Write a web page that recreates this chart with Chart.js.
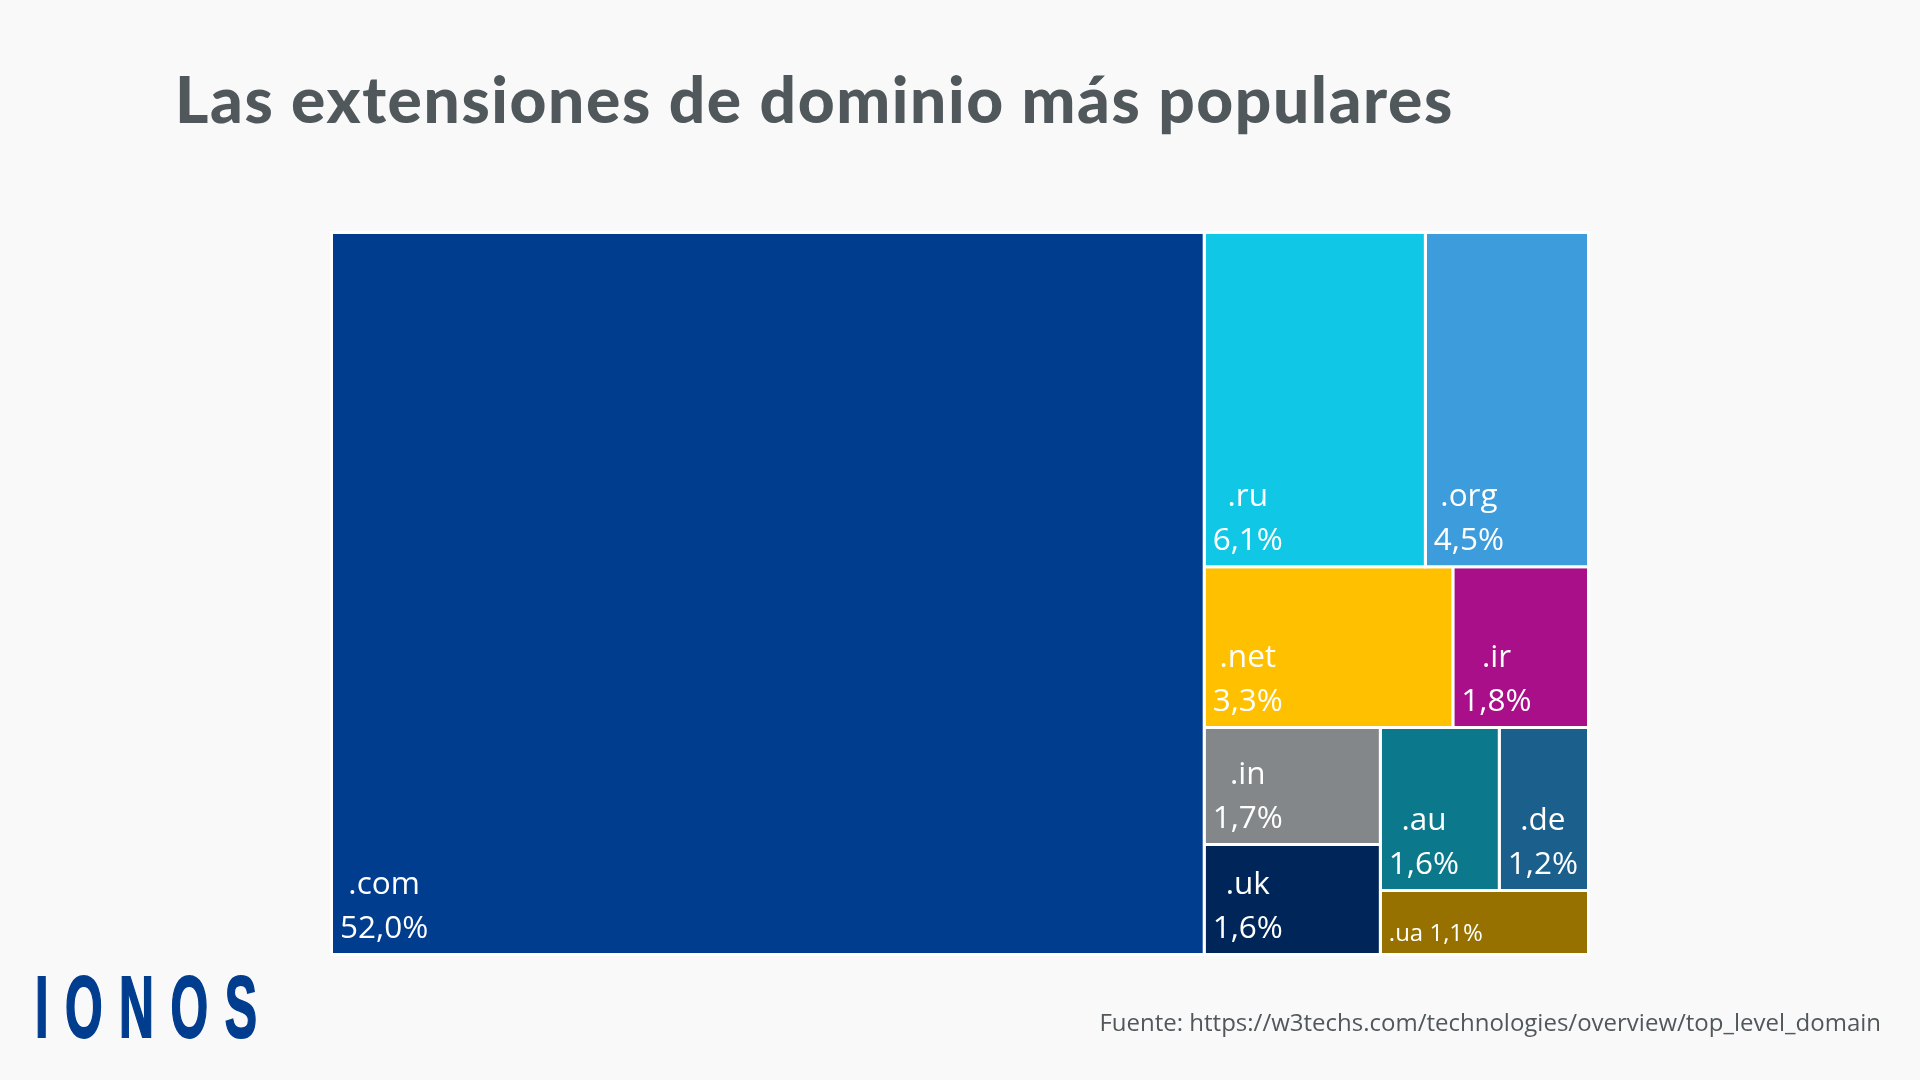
<!DOCTYPE html>
<html lang="es">
<head>
<meta charset="utf-8">
<title>Las extensiones de dominio más populares</title>
<script src="https://cdn.jsdelivr.net/npm/chart.js@4/dist/chart.umd.min.js"></script>
<style>
  html, body { margin: 0; background: #f9f9f9; }
  #wrap { position: relative; width: 1920px; height: 1080px; overflow: hidden; }
  #wrap div { position: absolute; white-space: nowrap; line-height: 1; }
  #heading { left: 175px; top: 67px; font: 900 64px Lato, sans-serif; letter-spacing: 1.6px; color: #50585c; }
  #source { right: 39px; top: 1010px; font: 24px "Open Sans", sans-serif; color: #50585c; }
  #logo { left: 35px; top: 963px; font: 700 88px "Liberation Sans", sans-serif; color: #003d8f;
          letter-spacing: 30px; -webkit-text-stroke: 2px #003d8f; transform: scaleX(0.55); transform-origin: left top; }
</style>
</head>
<body>
<div id="wrap">
  <div id="heading">Las extensiones de dominio más populares</div>
  <canvas id="treemap" width="1920" height="1080"></canvas>
  <div id="logo">IONOS</div>
  <div id="source">Fuente: https://w3techs.com/technologies/overview/top_level_domain</div>
</div>
<script>
const domains = [".com", ".ru", ".org", ".net", ".ir", ".in", ".uk", ".au", ".de", ".ua"];
const shares = [52.0, 6.1, 4.5, 3.3, 1.8, 1.7, 1.6, 1.6, 1.2, 1.1];
const colors = ["#003d8f", "#11c7e6", "#3c9cdc", "#ffc000", "#a90f88", "#83878a", "#002659", "#0c788b", "#1b5f8c", "#977100"];
// how the cells nest, by index into the arrays above. sizes still come from shares
const nesting = ["row", 0, ["col", ["row", 1, 2], ["row", 3, 4], ["row", ["col", 5, 6], ["col", ["row", 7, 8], 9]]]];

const total = shares.reduce((a, b) => a + b, 0);

const sumNode = (node) => {
  if (typeof node === "number") return shares[node];
  return node.slice(1).reduce((sum, child) => sum + sumNode(child), 0);
};

// splits a box between the children, in data units
const cells = [];
const layoutNode = (node, x0, y0, x1, y1) => {
  if (typeof node === "number") {
    cells[node] = { x0, y0, x1, y1 };
    return;
  }
  const size = sumNode(node);
  let at = node[0] === "row" ? x0 : y0;
  node.slice(1).forEach((child) => {
    const part = sumNode(child) / size;
    if (node[0] === "row") {
      const next = at + (x1 - x0) * part;
      layoutNode(child, at, y0, next, y1);
      at = next;
    } else {
      const next = at + (y1 - y0) * part;
      layoutNode(child, x0, at, x1, next);
      at = next;
    }
  });
};
layoutNode(nesting, 0, 0, total, total);

const cellLabels = {
  id: "cellLabels",
  afterDatasetsDraw(chart) {
    const { ctx, scales } = chart;
    ctx.save();
    ctx.fillStyle = "#ffffff";
    ctx.textBaseline = "alphabetic";
    cells.forEach((cell, i) => {
      const left = scales.x.getPixelForValue(cell.x0);
      const bottom = scales.y.getPixelForValue(cell.y1);
      const top = scales.y.getPixelForValue(cell.y0);
      const pct = shares[i].toFixed(1).replace(".", ",") + "%";
      // too flat for two lines
      if (bottom - top < 70) {
        ctx.font = '400 24px "Open Sans"';
        ctx.textAlign = "left";
        ctx.fillText(domains[i] + " " + pct, left + 8.5, bottom - 14);
        return;
      }
      ctx.font = '400 31.5px "Open Sans"';
      ctx.textAlign = "center";
      const mid = left + 8.5 + ctx.measureText(pct).width / 2;
      ctx.fillText(domains[i], mid, bottom - 60.5);
      ctx.fillText(pct, mid, bottom - 16.5);
    });
    ctx.restore();
  },
};

new Chart(document.getElementById("treemap"), {
  type: "scatter",
  data: {
    datasets: cells.map((c, i) => ({
      label: domains[i],
      data: [
        { x: c.x0, y: c.y0 },
        { x: c.x1, y: c.y0 },
        { x: c.x1, y: c.y1 },
        { x: c.x0, y: c.y1 },
        { x: c.x0, y: c.y0 },
      ],
      showLine: true,
      fill: "shape",
      backgroundColor: colors[i],
      borderColor: "#ffffff",
      borderWidth: 3,
      borderJoinStyle: "miter",
      borderCapStyle: "square",
      pointRadius: 0,
      clip: false,
    })),
  },
  options: {
    responsive: false,
    animation: false,
    devicePixelRatio: 1,
    layout: { padding: { left: 331.5, right: 331.5, top: 232.5, bottom: 125.5 } },
    scales: {
      x: { type: "linear", min: 0, max: total, display: false },
      y: { type: "linear", min: 0, max: total, reverse: true, display: false },
    },
    plugins: { legend: { display: false }, tooltip: { enabled: false } },
  },
  plugins: [cellLabels],
});
</script>
</body>
</html>
